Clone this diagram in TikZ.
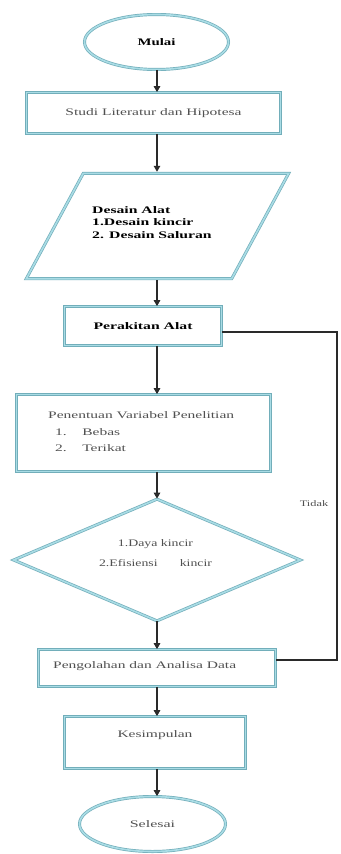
\documentclass[tikz,border=0pt]{standalone}
\usepackage{fontspec}
\setmainfont{Liberation Serif}
\usetikzlibrary{shapes.geometric,arrows.meta}
\definecolor{bdark}{HTML}{72AEBA}
\definecolor{blight}{HTML}{A9DCE5}
\definecolor{txt}{HTML}{505050}
\definecolor{linec}{HTML}{2A2A2A}
\newcommand\wx[2][1.55]{\scalebox{#1}[1]{#2}}
\begin{document}
\begin{tikzpicture}[x=1pt,y=1pt,
  frame/.style={draw=bdark, double=blight, line width=0.7pt, double distance=1.6pt, fill=white, inner sep=0pt},
  boxn/.style={frame, rectangle},
  oval/.style={frame, ellipse},
  arr/.style={draw=linec, line width=1.3pt, -{Triangle[length=6pt,width=6.5pt]}},
  link/.style={draw=linec, line width=1.2pt},
  lbl/.style={font=\fontsize{10}{12.5}\selectfont, text=txt, inner sep=0pt},
  blbl/.style={font=\fontsize{10}{12.5}\selectfont\bfseries, text=black, inner sep=0pt},
]
\useasboundingbox (0,0) rectangle (340,-854);
\fill[white] (0,0) rectangle (340,-854);
\coordinate (ax) at (157,0);
\coordinate (lp) at (337,0);

\node[oval, blbl, minimum width=144, minimum height=55] (mulai) at (156.5,-42) {\wx[1.48]{Mulai}};
\node[boxn, lbl, minimum width=254, minimum height=41] (studi) at (153.5,-113) {\wx{Studi Literatur dan Hipotesa}};
\node[inner sep=0pt, minimum width=262, minimum height=105] (desain) at (157.5,-226) {};
\draw[frame] ([xshift=57pt]desain.north west) -- (desain.north east) -- ([xshift=-57pt]desain.south east) -- (desain.south west) -- cycle;
\node[blbl, anchor=base west] (desainlbl) at (92,-213) {\wx[1.57]{\begin{tabular}[t]{@{}l@{}}Desain Alat\\1.Desain kincir\\2. Desain Saluran\end{tabular}}};
\node[boxn, blbl, minimum width=157, minimum height=39] (perakitan) at (143,-326) {\wx[1.57]{Perakitan Alat}};
\node[boxn, minimum width=254, minimum height=77] (penentuan) at (143.5,-433) {};
\node[lbl, anchor=base west, font=\fontsize{10}{16.5}\selectfont] (penentuanlbl) at (48,-418.5) {\wx{\begin{tabular}[t]{@{}l@{}}Penentuan Variabel Penelitian\\\hspace*{4.5pt}1.\hspace*{10pt}Bebas\\\hspace*{4.5pt}2.\hspace*{10pt}Terikat\end{tabular}}};
\node[frame, diamond, minimum width=287, minimum height=122] (keputusan) at (157,-560) {};
\node[lbl, anchor=base, font=\fontsize{10}{20}\selectfont] (keputusanlbl) at (155.5,-546) {\wx[1.38]{\begin{tabular}[t]{@{}c@{}}1.Daya kincir\\2.Efisiensi\hspace*{16pt}kincir\end{tabular}}};
\node[boxn, minimum width=237, minimum height=37] (pengolahan) at (157,-668) {};
\node[lbl, anchor=base west] (pengolahanlbl) at (53,-668) {\wx{Pengolahan dan Analisa Data}};
\node[boxn, minimum width=181, minimum height=52] (kesimpulan) at (155,-742.5) {};
\node[lbl] (kesimpulanlbl) at (155,-735) {\wx{Kesimpulan}};
\node[oval, lbl, minimum width=146, minimum height=55] (selesai) at (152.5,-824) {\wx[1.6]{Selesai}};
\node[lbl, font=\fontsize{8.5}{10}\selectfont] (tidak) at (314,-504) {\wx[1.45]{Tidak}};

\draw[arr] (ax |- mulai.south) -- (ax |- studi.north);
\draw[arr] (ax |- studi.south) -- ([yshift=1.5pt]ax |- desain.north);
\draw[arr] ([yshift=-1.5pt]ax |- desain.south) -- (ax |- perakitan.north);
\draw[arr] (ax |- perakitan.south) -- (ax |- penentuan.north);
\draw[arr] (ax |- penentuan.south) -- (keputusan.north);
\draw[arr] (keputusan.south) -- (ax |- pengolahan.north);
\draw[arr] (ax |- pengolahan.south) -- (ax |- kesimpulan.north);
\draw[arr] (ax |- kesimpulan.south) -- (ax |- selesai.north);

\path ([yshift=-6pt]perakitan.east) coordinate (pa);
\path ([yshift=8pt]pengolahan.east) coordinate (pe);
\draw[link] (pa) -| (lp |- pe) -- (pe);
\end{tikzpicture}
\end{document}
